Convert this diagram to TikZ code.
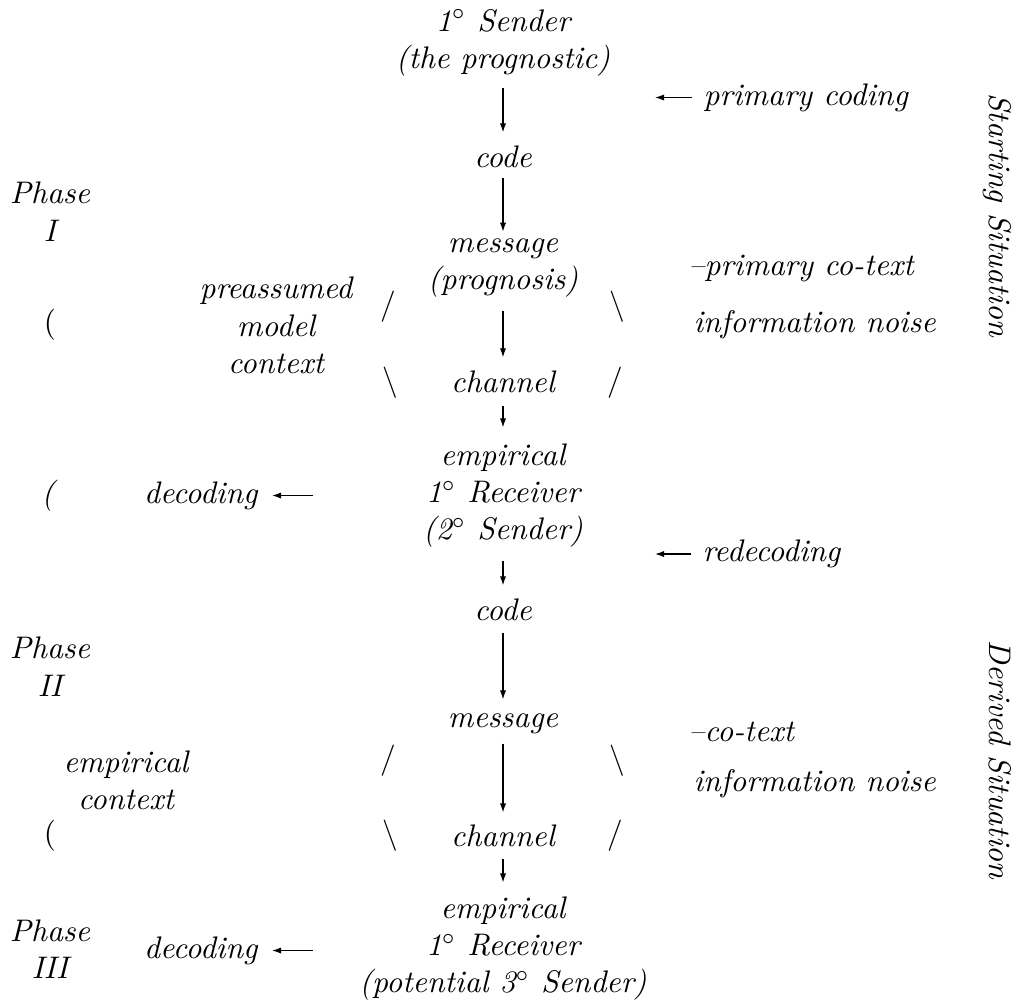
\documentclass[tikz,border=0pt]{standalone}
\usetikzlibrary{arrows.meta}
\newcommand{\mystrut}{\vrule height 8.4pt depth 3.6pt width 0pt}
\tikzset{
  lbl/.style={inner sep=0pt, font=\fontsize{10pt}{12pt}\selectfont\itshape, align=center},
  arr/.style={line width=0.4pt, -{Latex[length=2.9pt,width=2pt]}},
}
\begin{document}
\begin{tikzpicture}[x=0.3205pt,y=-0.3205pt]
\useasboundingbox (0,0) rectangle (1021,1003);
% central column
\node[lbl] (s1) at (503,42.5) {\mystrut 1$^\circ$ Sender\\\mystrut(the prognostic)};
\node[lbl] (code1) at (503,159.5) {\mystrut code};
\node[lbl] (msg1) at (503,263.5) {\mystrut message\\\mystrut(prognosis)};
\node[lbl] (ch1) at (503,384.5) {\mystrut channel};
\node[lbl] (rec1) at (503,495) {\mystrut empirical\\\mystrut 1$^\circ$ Receiver\\\mystrut(2$^\circ$ Sender)};
\node[lbl] (code2) at (503,612.5) {\mystrut code};
\node[lbl] (msg2) at (503,719.5) {\mystrut message};
\node[lbl] (ch2) at (503,838.5) {\mystrut channel};
\node[lbl] (rec2) at (503,948) {\mystrut empirical\\\mystrut 1$^\circ$ Receiver\\\mystrut(potential 3$^\circ$ Sender)};
\draw[arr, shorten <=2.5pt, shorten >=2.5pt] (s1.south) -- (code1.north);
\draw[arr, shorten <=-0.4pt, shorten >=-2pt] (code1.south) -- (msg1.north);
\draw[arr, shorten <=3.1pt, shorten >=2.5pt] (msg1.south) -- (ch1.north);
\draw[arr, shorten <=0.56pt, shorten >=3.45pt] (ch1.south) -- (rec1.north);
\draw[arr, shorten <=2.8pt, shorten >=2.5pt] (rec1.south) -- (code2.north);
\draw[arr, shorten <=0.24pt, shorten >=0.24pt] (code2.south) -- (msg2.north);
\draw[arr, shorten <=1.5pt, shorten >=2.16pt] (msg2.south) -- (ch2.north);
\draw[arr, shorten <=0.24pt, shorten >=2.8pt] (ch2.south) -- (rec2.north);
% right side
\node[lbl, anchor=west] (pc) at (703,97.5) {\mystrut primary coding};
\coordinate (pcTip) at (655,97.5);
\draw[arr, shorten <=3.5pt] (pc.west) -- (pcTip);
\node[lbl, anchor=west] (pct) at (688,267.5) {\mystrut --primary co-text};
\node[lbl, anchor=west] (in1) at (693,324.5) {\mystrut information noise};
\node[lbl, anchor=west] (rd) at (702,554) {\mystrut redecoding};
\coordinate (rdTip) at (655,554);
\draw[arr, shorten <=3.5pt] (rd.west) -- (rdTip);
\node[lbl, anchor=west] (ct) at (688,734) {\mystrut --co-text};
\node[lbl, anchor=west] (in2) at (693,784) {\mystrut information noise};
\node[lbl, rotate=-90] (ss) at (997,215) {\mystrut Starting Situation};
\node[lbl, rotate=-90] (ds) at (997,760) {\mystrut Derived Situation};
% left side
\node[lbl] (ph1) at (50,215) {\mystrut Phase\\\mystrut I};
\node[lbl] (ph2) at (50,670) {\mystrut Phase\\\mystrut II};
\node[lbl] (ph3) at (50,952.5) {\mystrut Phase\\\mystrut III};
\node[lbl] (pa1) at (50,325) {\mystrut\upshape (};
\node[lbl] (pa2) at (48,495.5) {\mystrut (};
\node[lbl] (pa3) at (50,835.5) {\mystrut\upshape (};
\node[lbl] (pmc) at (276,328.5) {\mystrut preassumed\\\mystrut model\\\mystrut context};
\node[lbl] (ec) at (126,783.5) {\mystrut empirical\\\mystrut context};
\node[lbl, anchor=east] (dec1) at (258,495.5) {\mystrut decoding};
\coordinate (dec1Tail) at (313,495.5);
\draw[arr, shorten >=4.5pt] (dec1Tail) -- (dec1.east);
\node[lbl, anchor=east] (dec2) at (258,950.5) {\mystrut decoding};
\coordinate (dec2Tail) at (313,950.5);
\draw[arr, shorten >=4.5pt] (dec2Tail) -- (dec2.east);
% slashes
\node[lbl] (sl1) at (388,307) {\mystrut$/$};
\node[lbl] (bs1) at (390,383) {\mystrut$\backslash$};
\node[lbl] (bs2) at (617,307) {\mystrut$\backslash$};
\node[lbl] (sl2) at (615,383) {\mystrut$/$};
\node[lbl] (sl3) at (388,761) {\mystrut$/$};
\node[lbl] (bs3) at (390,836) {\mystrut$\backslash$};
\node[lbl] (bs4) at (617,761) {\mystrut$\backslash$};
\node[lbl] (sl4) at (615,836) {\mystrut$/$};
\end{tikzpicture}
\end{document}
